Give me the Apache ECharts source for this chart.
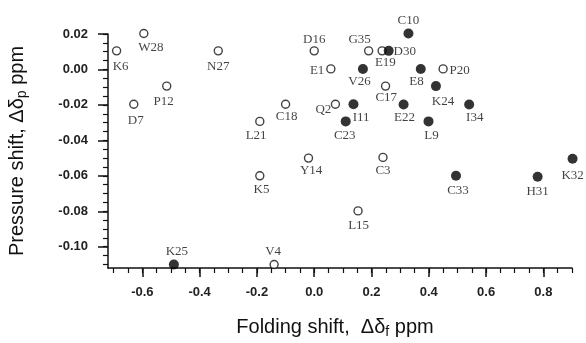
<!DOCTYPE html>
<html><head><meta charset="utf-8">
<script src="https://cdn.jsdelivr.net/npm/echarts@6/dist/echarts.min.js"></script>
<style>html,body{margin:0;padding:0;background:#fff}#c{width:586px;height:343px}</style>
</head><body><div id="c"></div>
<script>
// ---- data ----
const names  = ['K6','W28','D7','P12','N27','L21','K5','C18','Y14','V4','D16','E1','Q2','L15','G35','E19','C17','C3','P20',
                'K25','C10','D30','V26','E8','K24','I11','E22','I34','C23','L9','C33','H31','K32'];
const foldShift = [-0.69,-0.595,-0.63,-0.515,-0.335,-0.19,-0.19,-0.10,-0.02,-0.14,0.0,0.058,0.074,0.153,0.19,0.237,0.249,0.24,0.45,
                   -0.49,0.329,0.26,0.17,0.372,0.425,0.137,0.312,0.541,0.11,0.399,0.495,0.78,0.902];
const pressShift = [0.0105,0.0203,-0.0196,-0.0094,0.0105,-0.0293,-0.060,-0.0196,-0.050,-0.110,0.0105,0.0003,-0.0196,-0.0798,0.0105,0.0105,-0.0094,-0.0496,0.0003,
                    -0.110,0.0203,0.0105,0.0003,0.0003,-0.0094,-0.0196,-0.0198,-0.0198,-0.0293,-0.0293,-0.060,-0.0605,-0.0504];
const filled = [0,0,0,0,0,0,0,0,0,0,0,0,0,0,0,0,0,0,0,
                1,1,1,1,1,1,1,1,1,1,1,1,1,1];
const xTicks = [-0.6,-0.4,-0.2,0.0,0.2,0.4,0.6,0.8];
const yTicks = [0.02,0.00,-0.02,-0.04,-0.06,-0.08,-0.10];

// ---- label placement (styling) ----
const labelOffset = {
  W28:[7,14], K6:[4,15.7], N27:[0,15.6], P12:[-3,15], D7:[2,16.7], D16:[0,-11.4], E1:[-13.7,1.3], L21:[-3.7,14.4],
  C18:[1,12.7], Q2:[-12,5], C10:[0,-12.6], G35:[-9,-11.4], E19:[3.3,12], D30:[16,1], V26:[-3.4,13], E8:[-4.3,13],
  P20:[16.6,2], K24:[7,15.7], C17:[0.7,11.3], I11:[7.7,13.4], E22:[1,13], I34:[5.6,13], C23:[-1,14.4], L9:[3,14.4],
  Y14:[2.6,12.7], K5:[1.7,14], K25:[3,-12.6], V4:[-1,-12.6], C3:[0,13.4], C33:[2,14.7], H31:[0,14.6], K32:[0,17], L15:[0.6,14.3]
};

const xMinor = []; for (let i = -14; i <= 18; i++) xMinor.push(+(i*0.05).toFixed(2));
const yMinor = []; for (let i = 4; i >= -22; i--) yMinor.push(+(i*0.005).toFixed(3));

function pts(flag) {
  const out = [];
  names.forEach((n, i) => {
    if (filled[i] !== flag) return;
    out.push({ name: n, value: [foldShift[i], pressShift[i]],
      label: { offset: labelOffset[n] || [0, 14] } });
  });
  return out;
}

const labelFont = { show: true, position: 'inside', formatter: '{b}', fontFamily: '"Liberation Serif","Times New Roman",serif',
  fontSize: 13, color: '#111' };
const tickFont = { fontFamily: '"Liberation Sans",Arial,sans-serif', fontSize: 13, fontWeight: 'bold', color: '#222' };
function titleFont(pad) {
  return { fontFamily: '"Liberation Sans",Arial,sans-serif', fontSize: 20, color: '#111', padding: pad,
    rich: { s: { fontFamily: '"Liberation Sans",Arial,sans-serif', fontSize: 14, color: '#111', padding: [10,0,0,0] } } };
}

const chart = echarts.init(document.getElementById('c'), null, { renderer: 'canvas' });
chart.setOption({
  animation: false,
  backgroundColor: '#fff',
  grid: { left: 108, right: 14, top: 34, bottom: 75, containLabel: false, outerBoundsMode: 'none' },
  xAxis: [{
    type: 'value', min: -0.72, max: 0.9,
    name: 'Folding shift,  Δδ{s|f} ppm', nameLocation: 'middle', nameGap: 47, nameTextStyle: titleFont([0, 10, 0, 0]),
    axisLine: { show: true, onZero: false, lineStyle: { color: '#111', width: 1.5 } },
    axisTick: { show: true, length: 9, customValues: xTicks, lineStyle: { color: '#111', width: 1.5 } },
    axisLabel: Object.assign({ customValues: xTicks, margin: 18, formatter: v => v.toFixed(1) }, tickFont),
    splitLine: { show: false }
  }, {
    type: 'value', min: -0.72, max: 0.9, position: 'bottom',
    axisLine: { show: false, onZero: false },
    axisTick: { show: true, length: 5, customValues: xMinor, lineStyle: { color: '#111', width: 1.2 } },
    axisLabel: { show: false }, splitLine: { show: false }
  }],
  yAxis: [{
    type: 'value', min: -0.112, max: 0.02,
    name: 'Pressure shift, Δδ{s|p} ppm', nameLocation: 'middle', nameGap: 79, nameTextStyle: titleFont([0, 0, 0, 0]),
    axisLine: { show: true, onZero: false, lineStyle: { color: '#111', width: 1.5 } },
    axisTick: { show: true, length: 10, customValues: yTicks, lineStyle: { color: '#111', width: 1.5 } },
    axisLabel: Object.assign({ customValues: yTicks, margin: 20, formatter: v => v.toFixed(2) }, tickFont),
    splitLine: { show: false }
  }, {
    type: 'value', min: -0.112, max: 0.02, position: 'left',
    axisLine: { show: false, onZero: false },
    axisTick: { show: true, length: 5, customValues: yMinor, lineStyle: { color: '#111', width: 1.2 } },
    axisLabel: { show: false }, splitLine: { show: false }
  }],
  series: [{
    type: 'scatter', xAxisIndex: 0, yAxisIndex: 0, symbol: 'circle', symbolSize: 8, clip: false,
    itemStyle: { color: '#fff', borderColor: '#111', borderWidth: 1.4 },
    label: labelFont, data: pts(0)
  }, {
    type: 'scatter', xAxisIndex: 0, yAxisIndex: 0, symbol: 'circle', symbolSize: 10, clip: false,
    itemStyle: { color: '#000' },
    label: labelFont, data: pts(1)
  }]
});
</script></body></html>
